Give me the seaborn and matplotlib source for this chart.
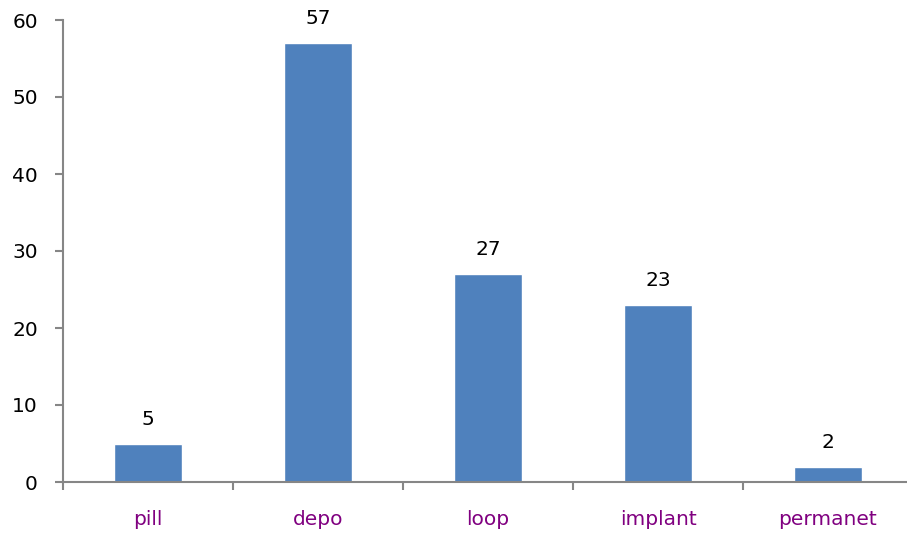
import matplotlib
matplotlib.use('Agg')
import matplotlib.pyplot as plt
import seaborn as sns
import numpy as np

# Values
methods = ['pill', 'depo', 'loop', 'implant', 'permanet']
counts = [5, 57, 27, 23, 2]

sns.set_style('white')
plt.rcParams['font.family'] = ['DejaVu Sans']

fig = plt.figure(figsize=(9.07, 5.40), dpi=100)
ax = fig.add_axes([63 / 907, 58 / 540, 850 / 907, 462 / 540])

sns.barplot(x=methods, y=counts, color='#4F81BD', width=0.4, saturation=1, ax=ax)

ax.set_xlim(-0.5, 4.5)
ax.set_ylim(0, 60)
ax.set_yticks(range(0, 61, 10))
ax.set_xlabel('')
ax.set_ylabel('')

# bar value labels
for i, v in enumerate(counts):
    ax.text(i, v + 1.9, str(v), ha='center', va='bottom', fontsize=14.5, color='black')

# axis styling like a spreadsheet chart
for side in ['top', 'right']:
    ax.spines[side].set_visible(False)
for side in ['left', 'bottom']:
    ax.spines[side].set_color('#868686')
    ax.spines[side].set_linewidth(1.5)

ax.tick_params(axis='y', which='major', direction='out', length=6, width=1.5,
               color='#868686', labelsize=14.5, labelcolor='black', pad=12, left=True)
ax.tick_params(axis='x', which='major', length=0, labelsize=14.5, labelcolor='#800080', pad=20)
ax.set_xticks(np.arange(-0.5, 5.0, 1.0), minor=True)
ax.tick_params(axis='x', which='minor', direction='out', length=6, width=1.5,
               color='#868686', bottom=True)

fig.savefig('out.png', dpi=100)
